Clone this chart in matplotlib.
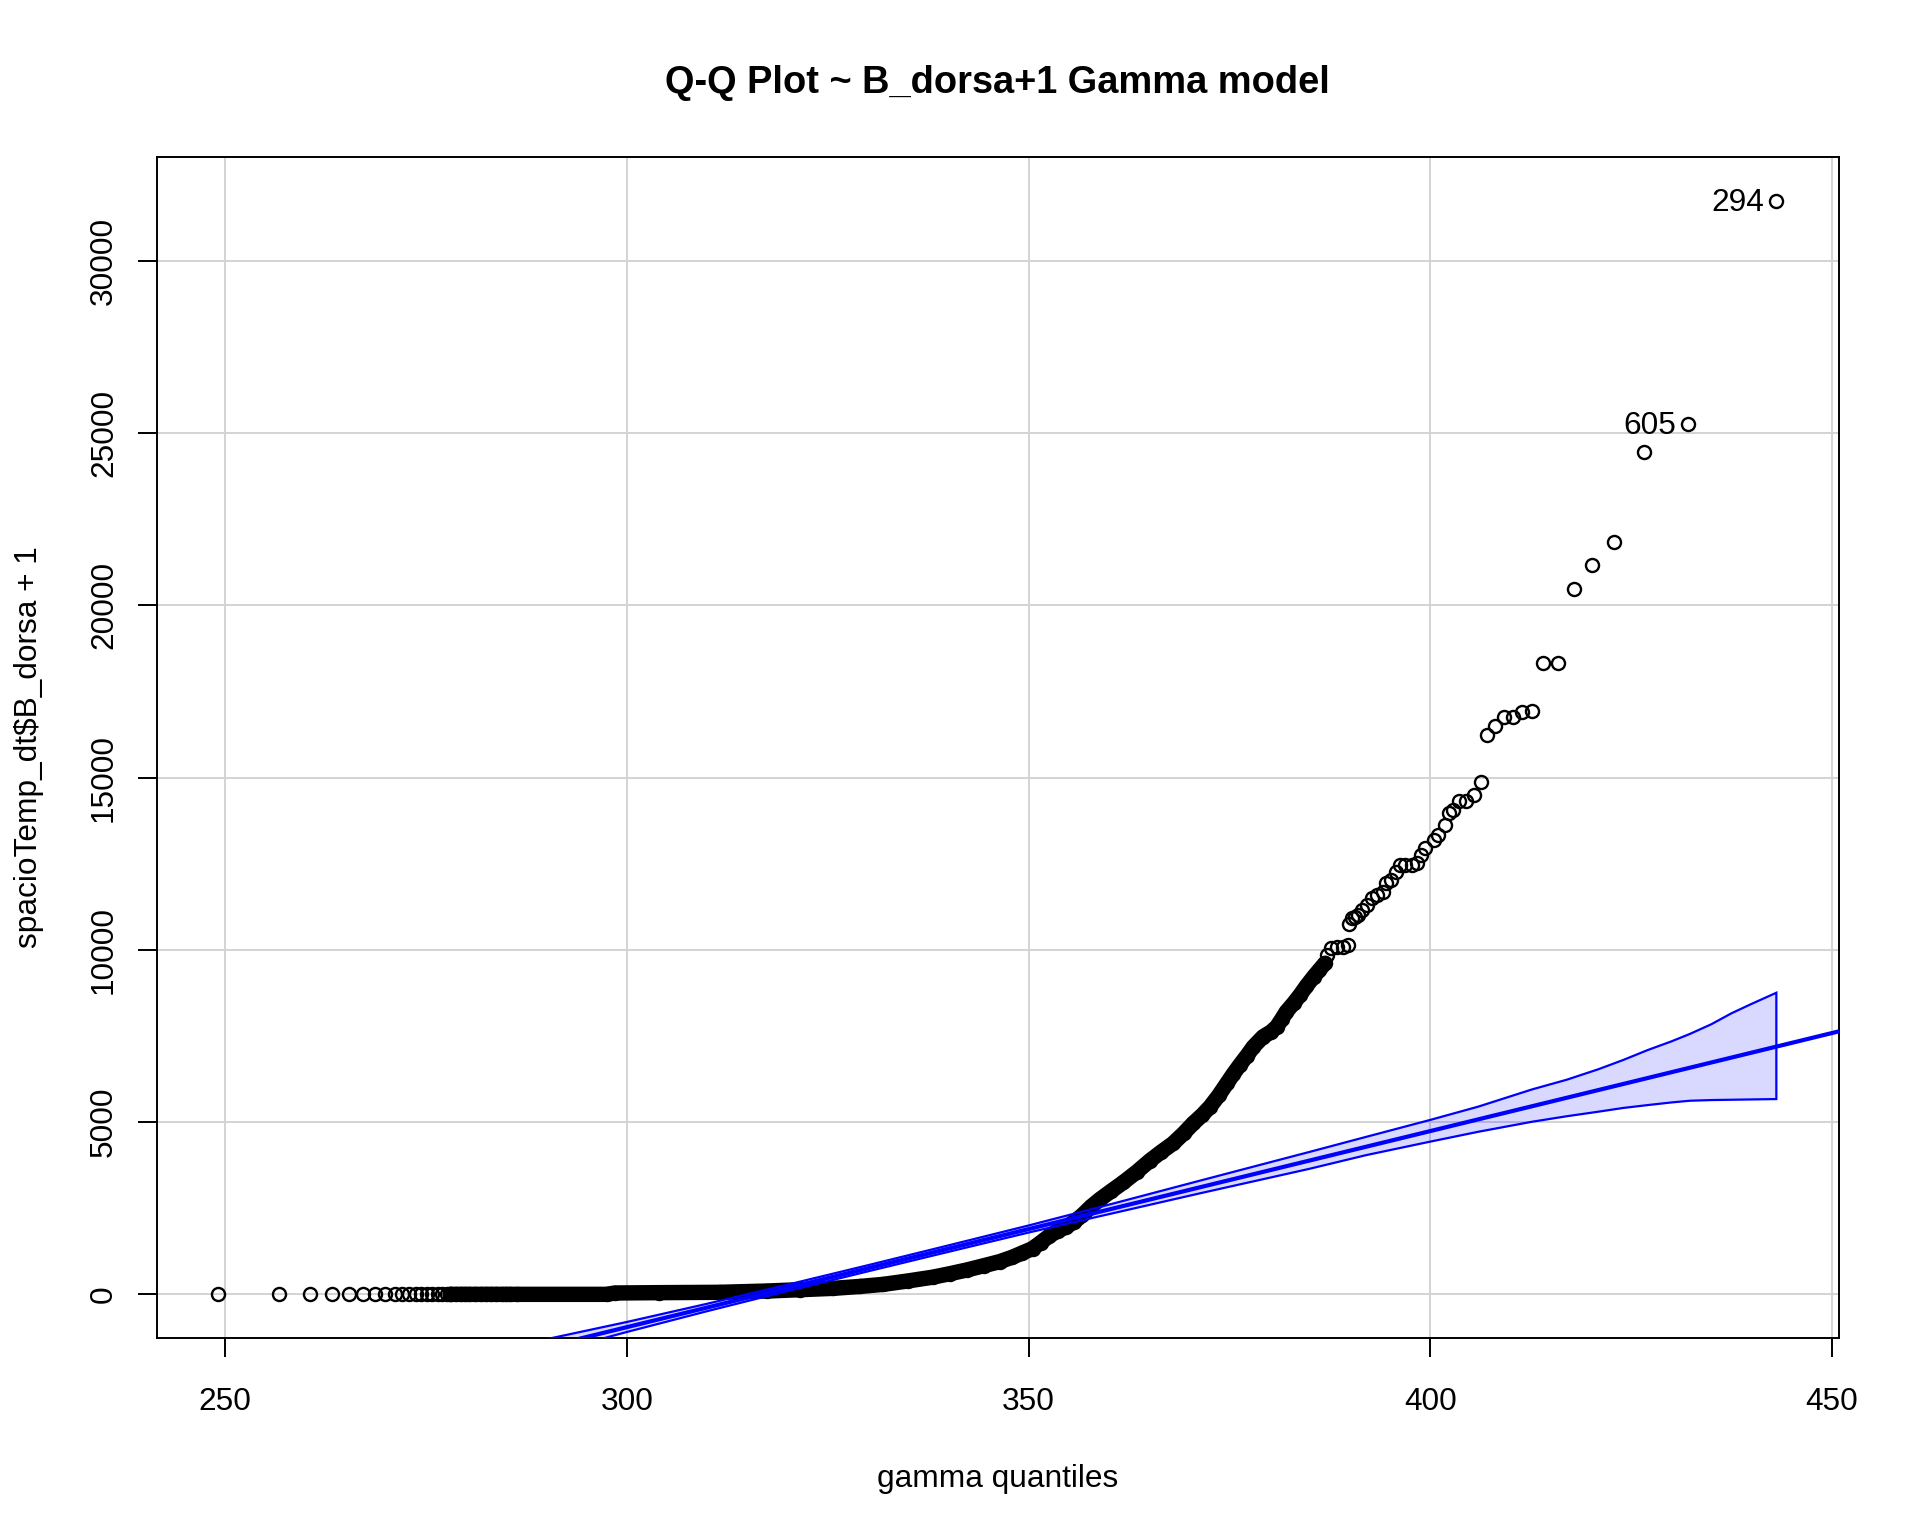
import numpy as np
import matplotlib
matplotlib.use("Agg")
import matplotlib.pyplot as plt

plt.rcParams['font.family'] = ['Liberation Sans', 'DejaVu Sans']

# ---------------- data ----------------
# lower tail: observations equal to 1 (B_dorsa = 0), at their gamma quantiles
low_tail_x = [249.1, 256.75, 260.6, 263.3, 265.4, 267.1, 268.6, 269.9, 271.1, 272.0,
              272.9, 273.7, 274.4, 275.1, 275.7, 276.5, 277.0, 277.6, 278.1, 278.7,
              279.3, 279.8, 280.4, 281.1, 281.8, 282.4, 283.1, 283.7, 284.5, 285.4, 286.3]
low_tail_y = [1, 1, 1, 1, 1, 1, 1, 1, 1, 1,
              1, 1, 1, 1, 1, 1, 1, 1, 1, 1,
              1, 1, 1, 1, 1, 1, 1, 1, 1, 1, 1]

# dense run of overlapping points (reads as a solid band)
band_x = [278.0, 285.0, 297.5, 298.5, 304.0, 311.6, 317.4, 321.5, 325.7, 329.0,
          331.9, 335.0, 338.1, 340.2, 342.3, 344.4, 346.4, 348.0, 349.2, 350.5,
          351.5, 352.6, 353.7, 354.7, 355.7, 356.7, 357.8, 358.9, 360.3, 361.8,
          363.5, 365.1, 366.5, 368.0, 369.3, 370.5, 371.6, 372.6, 373.7, 374.7,
          375.5, 376.3, 377.2, 378.0, 379.2, 380.2, 380.9, 381.5, 382.1, 383.0,
          383.8, 384.6, 385.5, 386.2, 386.9]
band_y = [1, 1, 1, 40, 50, 60, 97, 135, 175, 230,
          290, 390, 500, 600, 707, 830, 950, 1080, 1200, 1330,
          1500, 1700, 1850, 1960, 2110, 2300, 2550, 2760, 3000, 3250,
          3560, 3880, 4130, 4383, 4670, 4964, 5200, 5446, 5780, 6125,
          6400, 6656, 6930, 7188, 7478, 7620, 7768, 7980, 8204, 8450,
          8688, 8950, 9220, 9414, 9610]

# upper part: individually visible points
upper_x = [387.2, 387.6, 388.4, 389.1, 389.8, 389.9, 390.3, 390.6, 391.0, 391.5,
           392.2, 392.7, 393.4, 394.1, 394.5, 395.1, 395.8, 396.2, 396.9, 397.7,
           398.4, 398.8, 399.4, 400.5, 401.0, 401.8, 402.4, 402.8, 403.6, 404.5,
           405.4, 406.3, 407.1, 408.1, 409.2, 410.3, 411.4, 412.7, 414.1, 415.9,
           417.9, 420.2, 422.9, 426.6, 432.1, 443.1]
upper_y = [9850, 10040, 10090, 10090, 10140, 10760, 10914, 10963, 11010, 11155,
           11300, 11495, 11590, 11687, 11930, 12027, 12268, 12450, 12450, 12450,
           12511, 12752, 12946, 13188, 13333, 13624, 13963, 14058, 14329, 14329,
           14494, 14881, 16236, 16507, 16768, 16768, 16893, 16933, 18317, 18317,
           20465, 21170, 21824, 24442, 25263, 31746]

# labelled outliers
label_text = ['294', '605']
label_x = [443.1, 432.1]
label_y = [31746, 25263]

# reference line (intercept, slope)
line_intercept = -18021.0
line_slope = 56.9

# confidence envelope
env_x = [249.1, 260, 270, 280, 290, 300, 310, 320, 330, 340, 350, 360, 371.3,
         385, 392, 400, 406, 412.7, 417, 420.9, 424, 427.1, 430, 432.3, 435, 437.5,
         440, 443.1]
env_upper = [-2347, -2427, -2158, -1759, -1300, -801, -272, 282, 846, 1420, 1999,
             2603, 3298, 4136, 4570, 5063, 5450, 5950, 6230, 6531, 6800, 7093, 7340,
             7556, 7840, 8157, 8430, 8755]
env_lower = [-5247, -3977, -3128, -2389, -1720, -1091, -487, 97, 668, 1233, 1794,
             2328, 2931, 3646, 4040, 4433, 4720, 5011, 5170, 5301, 5410, 5495, 5570,
             5620, 5640, 5649, 5658, 5669]

x_ticks = [250, 300, 350, 400, 450]
y_ticks = [0, 5000, 10000, 15000, 20000, 25000, 30000]

title = "Q-Q Plot ~ B_dorsa+1 Gamma model"
xlabel = "gamma quantiles"
ylabel = "spacioTemp_dt$B_dorsa + 1"

# ---------------- figure ----------------
fig = plt.figure(figsize=(19.2, 15.36), dpi=100)
ax = fig.add_axes([0.0816, 0.1286, 0.9579 - 0.0816, 0.898 - 0.1286])
ax.set_xlim(241.46, 450.92)
ax.set_ylim(-1280, 33023)

ax.grid(True, color='#D3D3D3', lw=1.4)
ax.set_axisbelow(True)

ms, mew = 9.4, 1.7
pt_kw = dict(ls='none', marker='o', mfc='none', mec='black', ms=ms, mew=mew, zorder=2)
ax.plot(band_x, band_y, color='black', lw=ms + mew, solid_capstyle='round',
        solid_joinstyle='round', zorder=2)
ax.plot(low_tail_x, low_tail_y, **pt_kw)
ax.plot(band_x, band_y, **pt_kw)
ax.plot(upper_x, upper_y, **pt_kw)

for t, x, y in zip(label_text, label_x, label_y):
    ax.annotate(t, xy=(x, y), xytext=(-8.8, -7.5), textcoords='offset points',
                ha='right', va='baseline', fontsize=22.8)

env_x_a = np.array(env_x)
poly_x = np.concatenate([env_x_a, env_x_a[::-1]])
poly_y = np.concatenate([np.array(env_upper), np.array(env_lower)[::-1]])
ax.fill(poly_x, poly_y, facecolor=(0, 0, 1, 0.15), edgecolor='blue', lw=1.6, zorder=3)
ax.axline((0, line_intercept), slope=line_slope, color='blue', lw=3.0, zorder=4)

ax.set_xticks(x_ticks)
ax.set_xticklabels([str(v) for v in x_ticks])
ax.set_yticks(y_ticks)
ax.set_yticklabels([str(v) for v in y_ticks], rotation=90, va='center')
ax.tick_params(axis='both', direction='out', length=13.7, width=1.4,
               labelsize=22.8, color='black')
ax.tick_params(axis='x', pad=21)
ax.tick_params(axis='y', pad=13.5)
for s in ax.spines.values():
    s.set_linewidth(1.4)
    s.set_color('black')

cx = (0.0816 + 0.9579) / 2
fig.text(cx, 0.9393, title, ha='center', va='baseline', fontsize=27.4, fontweight='bold')
fig.text(cx, 0.0321, xlabel, ha='center', va='baseline', fontsize=22.8)
fig.text(0.0151, (0.1286 + 0.898) / 2, ylabel, ha='center', va='center',
         rotation=90, fontsize=22.8)

fig.savefig("out.png", dpi=100)
